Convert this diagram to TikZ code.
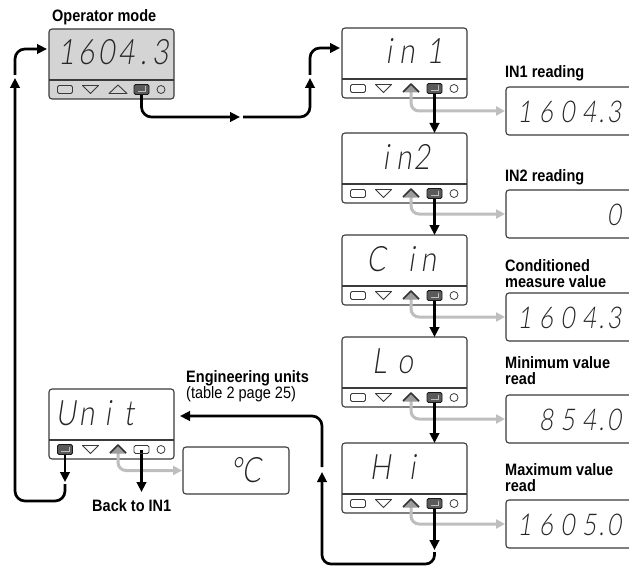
\documentclass[tikz,border=0pt]{standalone}
\usepackage{fontspec}
\usetikzlibrary{arrows.meta}
\setmainfont{Liberation Sans}
\newfontfamily\lblfont{Liberation Sans}[FakeStretch=0.88]
\IfFontExistsTF{Lato Light}{%
  \newfontfamily\segfont{Lato Light}[FakeSlant=0.15,FakeStretch=0.8]}{%
  \newfontfamily\segfont{Liberation Sans}[FakeSlant=0.15,FakeStretch=0.8]}
\newlength\cw
\newlength\dw
\newcommand\dg[1]{\makebox[\cw][c]{#1}}
\newcommand\dpt{\makebox[\dw][c]{.}}
\definecolor{boxline}{HTML}{3A3A3A}
\definecolor{opfill}{HTML}{D4D4D4}
\definecolor{keydark}{HTML}{5A5A5A}
\definecolor{trifill}{HTML}{9C9C9C}
\definecolor{arrowgray}{HTML}{BEBEBE}
\tikzset{
  devbox/.style={draw=boxline, line width=1.1pt, rounded corners=3pt, minimum width=125pt,
    minimum height=70pt, anchor=north west, inner sep=0pt, outer sep=0pt},
  valbox/.style={draw=boxline, line width=1.1pt, rounded corners=3pt, minimum width=150pt,
    minimum height=48pt, anchor=north west, inner sep=0pt, outer sep=0pt, fill=white},
  keypt/.style={inner sep=0pt, outer sep=0pt, minimum width=15pt, minimum height=8pt},
  lbl/.style={font=\lblfont\bfseries\fontsize{16.5}{16}\selectfont, align=left, inner sep=0pt},
  dispA/.style={font=\segfont\fontsize{35}{35}\selectfont, text=black!85, inner sep=0pt},
  dispB/.style={font=\segfont\fontsize{30}{30}\selectfont, text=black!85, inner sep=0pt},
  blk/.style={line width=2.7pt, -{Triangle[length=10pt,width=9.5pt]}, rounded corners=10pt},
  gry/.style={draw=arrowgray, line width=3pt, -{Triangle[length=9pt,width=9pt]}, rounded corners=8pt, shorten >=1pt},
}
\newcommand\devbox[4]{%
  \node[devbox, fill=#4] (#1) at (#2,#3) {};
  \draw[boxline, line width=1.1pt] ([yshift=19pt]#1.south west) -- ([yshift=19pt]#1.south east);
  \foreach \i/\dx in {1/16,2/41.5,3/69,4/92.5,5/112}
    \node[keypt] (#1-k\i) at ([shift={(\dx pt,9.5pt)}]#1.south west) {};
}
\newcommand\krect[1]{\draw[boxline, line width=0.9pt, rounded corners=1.5pt]
  ([shift={(-7.5pt,-4pt)}]#1.center) rectangle ([shift={(7.5pt,4pt)}]#1.center);}
\newcommand\kdown[1]{\draw[boxline, line width=0.9pt, line join=round]
  ([shift={(-8pt,4pt)}]#1.center) -- ([shift={(8pt,4pt)}]#1.center) -- ([shift={(0pt,-4pt)}]#1.center) -- cycle;}
\newcommand\kup[1]{\draw[boxline, line width=0.9pt, line join=round]
  ([shift={(-9pt,-4pt)}]#1.center) -- ([shift={(9pt,-4pt)}]#1.center) -- ([shift={(0pt,4.5pt)}]#1.center) -- cycle;}
\newcommand\kupf[1]{\fill[trifill] ([shift={(-8pt,-4pt)}]#1.center) -- ([shift={(8pt,-4pt)}]#1.center)
  -- ([shift={(0pt,4.5pt)}]#1.center) -- cycle;
  \draw[black!80, line width=1.7pt, line join=round] ([shift={(-8pt,-3.5pt)}]#1.center)
  -- ([shift={(0pt,4.5pt)}]#1.center) -- ([shift={(8pt,-3.5pt)}]#1.center);}
\newcommand\kenter[1]{\draw[fill=keydark, draw=black!90, line width=0.8pt, rounded corners=1.5pt]
  ([shift={(-7.5pt,-5pt)}]#1.center) rectangle ([shift={(7.5pt,5pt)}]#1.center);
  \draw[white!75!black, line width=0.9pt] ([shift={(4pt,3pt)}]#1.center) -- ([shift={(4pt,-1.5pt)}]#1.center)
  -- ([shift={(-4pt,-1.5pt)}]#1.center);}
\newcommand\kcirc[1]{\draw[boxline, line width=0.8pt] (#1.center) circle[radius=4pt];}
\newcommand\stdkeys[1]{\krect{#1-k1}\kdown{#1-k2}\kupf{#1-k3}\kenter{#1-k4}\kcirc{#1-k5}}
\begin{document}
\begin{tikzpicture}[x=1pt,y=-1pt]
\useasboundingbox (0,0) rectangle (629,567);
% device boxes
\devbox{op}{49}{29}{opfill}
\devbox{in1}{342}{28}{white}
\devbox{in2}{342}{133}{white}
\devbox{cin}{342}{235}{white}
\devbox{lo}{342}{337}{white}
\devbox{hi}{342}{443}{white}
\devbox{unit}{49}{389}{white}
% display texts
\node[dispA, anchor=base east] (op-t) at (170.5,65) {\setlength\cw{20pt}\setlength\dw{14pt}\dg{1}\dg{6}\dg{0}\dg{4}\dpt\dg{3}};
\node[dispA, anchor=base east] (in1-t) at (444,64) {\setlength\cw{18pt}\dg{i}\dg{n}\hspace{10pt}\dg{1}};
\node[dispA, anchor=base east] (in2-t) at (431,169) {\setlength\cw{18pt}\dg{i}\dg{n}\dg{2}};
\node[dispA, anchor=base west] (cin-t) at (367.5,271) {\setlength\cw{17pt}\dg{C}\hspace{18pt}\dg{i}\dg{n}};
\node[dispA, anchor=base west] (lo-t) at (369,373) {\setlength\cw{20pt}\dg{L}\hspace{6pt}\dg{o}};
\node[dispA, anchor=base west] (hi-t) at (370,479) {\setlength\cw{20pt}\dg{H}\hspace{12pt}\dg{i}};
\node[dispA, anchor=base west] (unit-t) at (55,425) {\setlength\cw{21pt}\dg{U}\dg{n}\dg{i}\dg{t}};
% value boxes
\node[valbox] (v1) at (506,87) {};
\node[valbox] (v2) at (506,190) {};
\node[valbox] (v3) at (506,293) {};
\node[valbox] (v4) at (506,395) {};
\node[valbox] (v5) at (506,500) {};
\node[valbox, minimum width=106pt, minimum height=47pt] (degc) at (183,447) {};
\node[dispB, anchor=east] (v1-t) at ([yshift=-1pt]v1.east -| 625,0) {\setlength\cw{21.5pt}\setlength\dw{3.5pt}\dg{1}\dg{6}\dg{0}\dg{4}\dpt\dg{3}};
\node[dispB, anchor=east] (v2-t) at ([yshift=-1pt]v2.east -| 625,0) {\setlength\cw{21.5pt}\dg{0}};
\node[dispB, anchor=east] (v3-t) at ([yshift=-1pt]v3.east -| 625,0) {\setlength\cw{21.5pt}\setlength\dw{3.5pt}\dg{1}\dg{6}\dg{0}\dg{4}\dpt\dg{3}};
\node[dispB, anchor=east] (v4-t) at ([yshift=-1pt]v4.east -| 625,0) {\setlength\cw{21.5pt}\setlength\dw{3.5pt}\dg{8}\dg{5}\dg{4}\dpt\dg{0}};
\node[dispB, anchor=east] (v5-t) at ([yshift=-1pt]v5.east -| 625,0) {\setlength\cw{21.5pt}\setlength\dw{3.5pt}\dg{1}\dg{6}\dg{0}\dg{5}\dpt\dg{0}};
\node[dispA, anchor=base west] (degc-t) at (228.5,482) {\setlength\cw{15pt}\dg{°}\dg{C}};
% labels
\node[lbl, anchor=base west] (l-op) at (52,22) {Operator mode};
\node[lbl, anchor=base west] (l-in1) at (505,78) {IN1 reading};
\node[lbl, anchor=base west] (l-in2) at (505,181) {IN2 reading};
\node[lbl, anchor=north west] (l-cin) at (505,259) {Conditioned\\measure value};
\node[lbl, anchor=north west] (l-lo) at (505,356) {Minimum value\\read};
\node[lbl, anchor=north west] (l-hi) at (505,463) {Maximum value\\read};
\node[lbl, anchor=north west] (l-unit) at (186,370) {Engineering units\\\mdseries(table 2 page 25)};
\node[lbl, anchor=base west] (l-back) at (92,511) {Back to IN1};
% gray arrows
\draw[gry] (in1-k3.center) |- (v1.west);
\draw[gry] (in2-k3.center) |- (v2.west);
\draw[gry] (cin-k3.center) |- (v3.west);
\draw[gry] (lo-k3.center) |- (v4.west);
\draw[gry] (hi-k3.center) |- (v5.west);
\draw[gry] (unit-k3.center) |- (degc.west);
% black arrows
\coordinate (a1) at (240,117); \coordinate (a1s) at (243,117);
\coordinate (a2) at (310,78);  \coordinate (a2s) at (310,75);
\draw[blk] (op-k4.center) |- (a1);
\draw[blk] (a1s) -| (a2);
\draw[blk, shorten >=2pt] (a2s) |- ([yshift=15pt]in1.west);
\draw[blk] (in1-k4.center) -- (in1-k4 |- in2.north);
\draw[blk] (in2-k4.center) -- (in2-k4 |- cin.north);
\draw[blk] (cin-k4.center) -- (cin-k4 |- lo.north);
\draw[blk] (lo-k4.center) -- (lo-k4 |- hi.north);
\coordinate (b1) at (434.5,550); \coordinate (b1s) at (434.5,552);
\coordinate (b2) at (322,564);   \coordinate (b3) at (322,472); \coordinate (b3s) at (322,467);
\draw[blk] (hi-k4.center) -- (b1);
\draw[blk, rounded corners=9pt] (b1s) |- (b2) -- (b3);
\draw[blk, shorten >=6pt] (b3s) |- ([yshift=8pt]unit.east);
\coordinate (c1) at (65,482); \coordinate (c1s) at (65,484);
\coordinate (c2) at (15,501);  \coordinate (c3) at (15,78); \coordinate (c3s) at (15,75);
\draw[blk] (unit-k1.center) -- (c1);
\draw[blk] (c1s) |- (c2) -- (c3);
\draw[blk, shorten >=2pt] (c3s) |- ([yshift=15pt]op.west);
\coordinate (d1) at (141.5,492);
\draw[blk] (unit-k4.center) -- (d1);
% keys
\krect{op-k1}\kdown{op-k2}\kup{op-k3}\kenter{op-k4}\kcirc{op-k5}
\stdkeys{in1}\stdkeys{in2}\stdkeys{cin}\stdkeys{lo}\stdkeys{hi}
\kenter{unit-k1}\kdown{unit-k2}\kupf{unit-k3}\krect{unit-k4}\kcirc{unit-k5}
\end{tikzpicture}
\end{document}
